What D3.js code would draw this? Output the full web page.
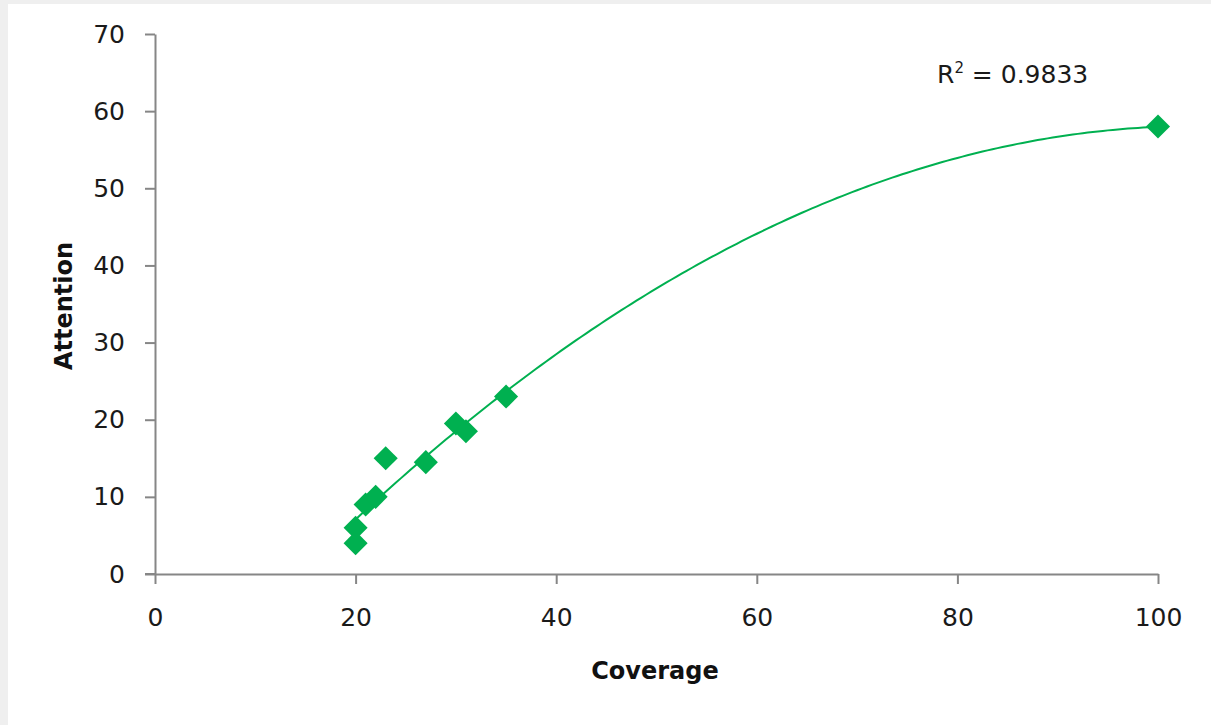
<!DOCTYPE html>
<html><head><meta charset="utf-8">
<script src="https://cdn.jsdelivr.net/npm/d3@7"></script>
<style>
html,body{margin:0;padding:0;background:#efefef;}
svg{display:block;}
</style></head>
<body>
<svg id="chart" width="1211" height="725"></svg>
<script>
// ---- data ----
const coverage  = [20, 20, 21, 22, 23, 27, 30, 31, 35, 100];
const attention = [4, 6, 9, 10, 15, 14.5, 19.5, 18.5, 23, 58];
const xTicks = [0, 20, 40, 60, 80, 100];
const yTicks = [0, 10, 20, 30, 40, 50, 60, 70];
const rSquaredLabel = "0.9833";
const xTitle = "Coverage";
const yTitle = "Attention";

const W = 1211, H = 725;
const svg = d3.select("#chart");
svg.append("rect").attr("x", 8).attr("y", 4).attr("width", W - 8).attr("height", H - 4).attr("fill", "#ffffff");

const x = d3.scaleLinear().domain([0, 100]).range([155, 1158]);
const y = d3.scaleLinear().domain([0, 70]).range([574, 34]);

const axisColor = "#868686";
const font = "'DejaVu Sans', sans-serif";

// y axis
const gy = svg.append("g").attr("transform", `translate(${x(0)},0)`)
  .call(d3.axisLeft(y).tickValues(yTicks).tickSize(10).tickSizeOuter(0).tickPadding(20));
// x axis
const gx = svg.append("g").attr("transform", `translate(0,${y(0)})`)
  .call(d3.axisBottom(x).tickValues(xTicks).tickSize(10).tickSizeOuter(0).tickPadding(24));
[gx, gy].forEach(g => {
  g.select(".domain").attr("stroke", axisColor).attr("stroke-width", 2);
  g.selectAll(".tick line").attr("stroke", axisColor).attr("stroke-width", 2);
  g.selectAll(".tick text").attr("fill", "#1a1a1a").style("font-family", font).style("font-size", "25px");
});
// extend x-axis line left over the y tick
svg.append("line").attr("x1", x(0) - 10).attr("x2", x(0)).attr("y1", y(0)).attr("y2", y(0))
  .attr("stroke", axisColor).attr("stroke-width", 2);

// polynomial (order 2) least-squares trendline
function polyfit2(xs, ys) {
  const n = xs.length;
  let s = [0,0,0,0,0], t = [0,0,0];
  for (let i = 0; i < n; i++) {
    let p = 1;
    for (let k = 0; k < 5; k++) { s[k] += p; if (k < 3) t[k] += p * ys[i]; p *= xs[i]; }
  }
  const A = [[s[0], s[1], s[2], t[0]], [s[1], s[2], s[3], t[1]], [s[2], s[3], s[4], t[2]]];
  for (let i = 0; i < 3; i++) {
    for (let j = i + 1; j < 3; j++) {
      const f = A[j][i] / A[i][i];
      for (let k = i; k < 4; k++) A[j][k] -= f * A[i][k];
    }
  }
  const c = [0,0,0];
  for (let i = 2; i >= 0; i--) {
    let v = A[i][3];
    for (let k = i + 1; k < 3; k++) v -= A[i][k] * c[k];
    c[i] = v / A[i][i];
  }
  return c;
}
const c = polyfit2(coverage, attention);
const xs = d3.range(d3.min(coverage), d3.max(coverage) + 0.001, 0.5);
const trend = xs.map(v => [v, c[0] + c[1] * v + c[2] * v * v]);
svg.append("path").datum(trend)
  .attr("fill", "none").attr("stroke", "#00b050").attr("stroke-width", 2)
  .attr("d", d3.line().x(d => x(d[0])).y(d => y(d[1])));

// markers (diamonds)
const sym = d3.symbol().type(d3.symbolDiamond2).size(370);
svg.append("g").selectAll("path").data(coverage.map((v, i) => [v, attention[i]])).join("path")
  .attr("d", sym)
  .attr("transform", d => `translate(${x(d[0])},${y(d[1])})`)
  .attr("fill", "#00b050");

// R^2 label
const r2 = svg.append("text").attr("x", 937).attr("y", 83)
  .style("font-family", font).style("font-size", "25px").attr("fill", "#1a1a1a");
r2.append("tspan").text("R");
r2.append("tspan").text("2").attr("dy", -10).style("font-size", "15px");
r2.append("tspan").text(" = " + rSquaredLabel).attr("dy", 10);

// axis titles
svg.append("text").attr("x", 655).attr("y", 679).attr("text-anchor", "middle")
  .style("font-family", font).style("font-size", "24px").style("font-weight", "bold").attr("fill", "#111")
  .text(xTitle);
svg.append("text").attr("transform", "translate(72,306) rotate(-90)").attr("text-anchor", "middle")
  .style("font-family", font).style("font-size", "24px").style("font-weight", "bold").attr("fill", "#111")
  .text(yTitle);
</script>
</body></html>
